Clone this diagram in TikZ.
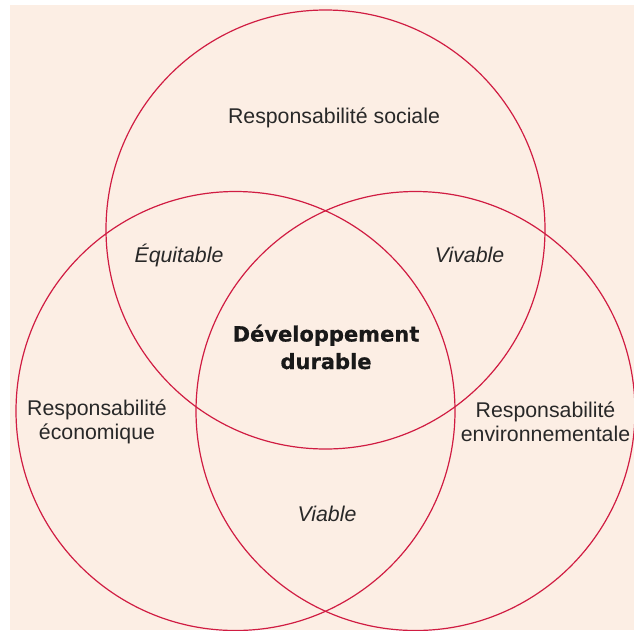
\documentclass[tikz,border=0pt]{standalone}
\usepackage{fontspec}
\setmainfont{Liberation Sans}
\newfontfamily\heavyfont[BoldFeatures={FakeBold=0.6}]{DejaVu Sans}
\definecolor{peach}{RGB}{252,238,228}
\definecolor{ringred}{RGB}{208,28,66}
\definecolor{inkgray}{RGB}{40,40,40}
\tikzset{
    ring/.style={circle, draw=ringred, line width=1.2pt, inner sep=0pt, minimum size=439pt},
    label/.style={text=inkgray, font=\fontsize{21.3}{24}\selectfont, align=center, inner sep=0pt},
    pair/.style={label, font=\fontsize{21.3}{24}\selectfont\itshape},
    core/.style={text=black!90, font=\heavyfont\bfseries\fontsize{21}{27.5}\selectfont, align=center, inner sep=0pt}
}
\begin{document}
\begin{tikzpicture}[x=1pt, y=-1pt]
    \useasboundingbox (0,0) rectangle (634,630);
    \clip (0,0) rectangle (634,630);
    \fill[peach] (10,5) rectangle (634,630);

    % The three responsibility circles
    \node[ring] (soc) at (325.5, 229.5) {};
    \node[ring] (eco) at (235.5, 411) {};
    \node[ring] (env) at (415.5, 411) {};

    % Labels of each circle
    \node[label] (tsoc) at (334, 118) {Responsabilité sociale};
    \node[label] (teco) at (97, 422) {Responsabilité\\économique};
    \node[label] (tenv) at (545.5, 422) {Responsabilité\\environnementale};

    % Pairwise overlaps
    \node[pair] (equi) at (179, 255) {Équitable};
    \node[pair] (viva) at (469.5, 255) {Vivable};
    \node[pair] (viab) at (327, 514) {Viable};

    % Common centre
    \node[core] (dd) at (326, 347) {Développement\\durable};
\end{tikzpicture}
\end{document}
